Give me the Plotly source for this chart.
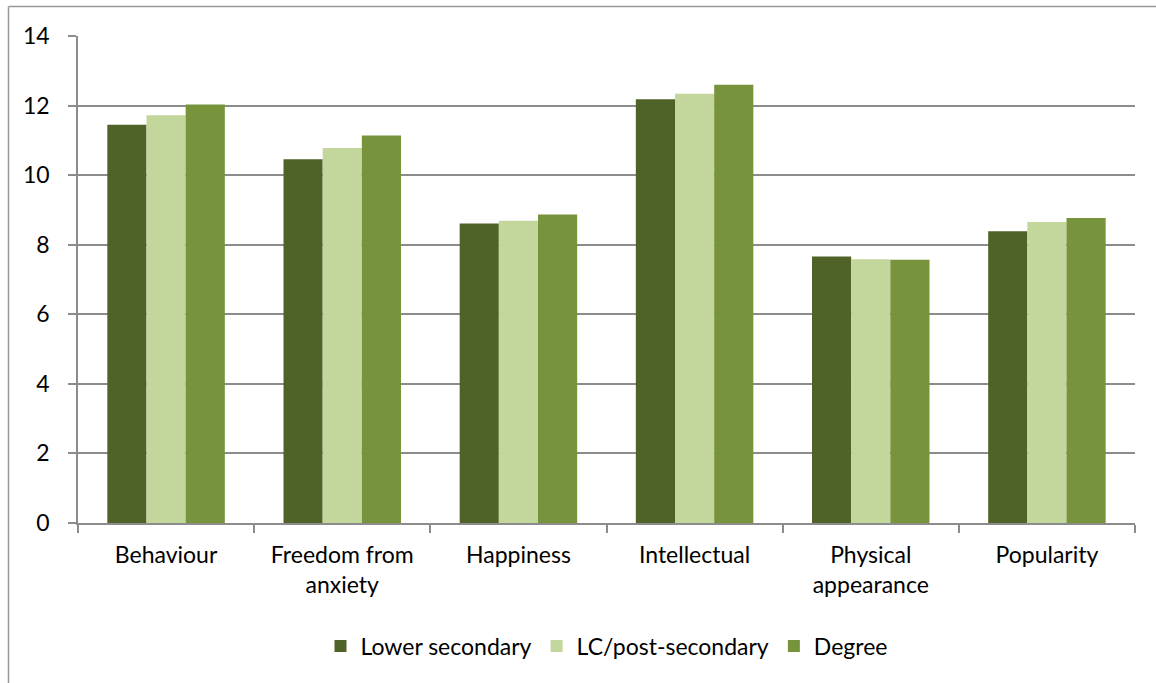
import plotly.graph_objects as go

categories = ["Behaviour", "Freedom from<br>anxiety", "Happiness", "Intellectual",
              "Physical<br>appearance", "Popularity"]
lower_secondary = [11.45, 10.46, 8.61, 12.18, 7.66, 8.39]
lc_post_secondary = [11.72, 10.78, 8.69, 12.34, 7.58, 8.65]
degree = [12.03, 11.14, 8.87, 12.60, 7.57, 8.77]
series_names = ["Lower secondary", "LC/post-secondary", "Degree"]
colors = ["#4F6228", "#C3D69B", "#77933C"]
y_ticks = [0, 2, 4, 6, 8, 10, 12, 14]

fig = go.Figure()
for name, vals, col in zip(series_names, [lower_secondary, lc_post_secondary, degree], colors):
    fig.add_trace(go.Bar(x=categories, y=vals, name=name, marker=dict(color=col, line=dict(width=0))))

W, H = 1156, 683
L, R, T, B = 78, 1135, 36, 523
pw, ph = R - L, B - T

def px2paper_x(px):
    return (px - L) / pw

def px2paper_y(py):
    return (B - py) / ph

fig.update_layout(
    width=W, height=H,
    margin=dict(l=L, r=W - R, t=T, b=H - B, pad=0),
    barmode="group", bargap=0.333, bargroupgap=0,
    plot_bgcolor="white", paper_bgcolor="white",
    font=dict(family="Lato, Open Sans, sans-serif", size=23, color="#000000"),
    legend=dict(orientation="h", x=0.5, xanchor="center", y=px2paper_y(646), yanchor="middle",
                font=dict(size=23), traceorder="normal"),
    xaxis=dict(showline=True, linecolor="#8c8c8c", linewidth=1.5, ticks="outside",
               tickson="boundaries", ticklen=8, tickcolor="#8c8c8c", tickwidth=1.5,
               showgrid=False, tickfont=dict(size=23), ticklabelstandoff=11),
    yaxis=dict(range=[0, 14], tickvals=y_ticks, showline=True, linecolor="#8c8c8c", linewidth=1.5,
               ticks="outside", ticklen=8, tickcolor="#8c8c8c", tickwidth=1.5,
               showgrid=True, gridcolor="#8c8c8c", gridwidth=1.5, zeroline=False,
               ticklabelstandoff=14, tickfont=dict(size=23)),
    shapes=[
        dict(type="line", xref="paper", yref="paper", x0=px2paper_x(8.5), x1=px2paper_x(1160),
             y0=px2paper_y(6.5), y1=px2paper_y(6.5), line=dict(color="#999999", width=1.5)),
        dict(type="line", xref="paper", yref="paper", x0=px2paper_x(8.5), x1=px2paper_x(8.5),
             y0=px2paper_y(6.5), y1=px2paper_y(690), line=dict(color="#999999", width=1.5)),
    ],
)

fig.write_html("out.html", config={"displayModeBar": False},
               post_script="document.body.style.margin='0';")
